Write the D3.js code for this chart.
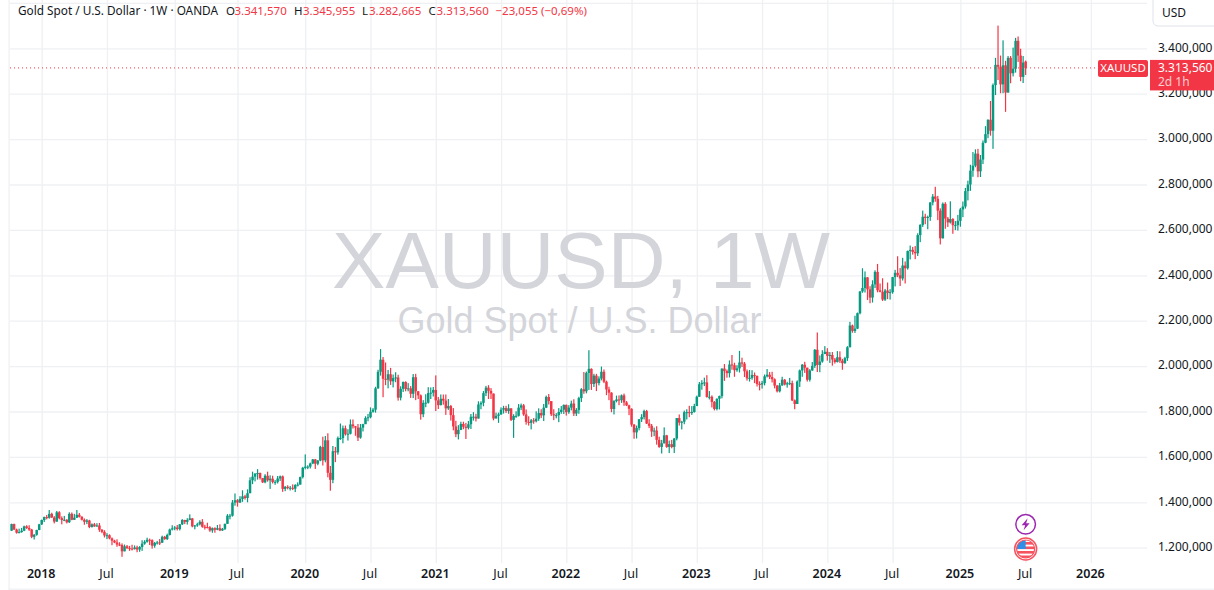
<!DOCTYPE html>
<html>
<head>
<meta charset="utf-8">
<script src="https://cdn.jsdelivr.net/npm/d3@7"></script>
<style>
  html, body { margin: 0; padding: 0; background: #fff; overflow: hidden; }
  svg { display: block; }
  text { font-family: "Noto Sans", sans-serif; }
</style>
</head>
<body>
<div id="container"></div>
<script>
// weekly bars from 9 Oct 2017 to 7 Jul 2025, one line per calendar year
const opens = [
  1275,1304,1280,1266,1269,1275,1294,1287,1280,1248,1257,1278,
  1303,1322,1335,1332,1349,1333,1315,1356,1330,1322,1323,1312,1349,1323,1332,1345,1336,1323,1314,1320,1291,1303,1294,1298,1279,1270,1254,1255,1241,1231,1223,1214,1212,1184,1206,1199,1196,1194,1201,1192,1203,1218,1226,1235,1233,1209,1221,1223,1222,1248,1238,1256,1280,
  1285,1289,1282,1303,1322,1314,1322,1329,1294,1298,1303,1314,1292,1291,1290,1276,1286,1279,1286,1276,1283,1305,1341,1341,1399,1409,1399,1415,1426,1419,1440,1497,1513,1527,1529,1507,1488,1517,1497,1504,1489,1490,1505,1514,1459,1468,1463,1464,1460,1476,1478,1511,
  1552,1557,1557,1571,1589,1570,1584,1644,1585,1673,1530,1499,1625,1620,1683,1683,1726,1700,1702,1743,1735,1729,1685,1729,1744,1771,1775,1799,1808,1902,1975,2028,1944,1940,1964,1933,1947,1950,1861,1900,1930,1899,1902,1878,1951,1889,1871,1788,1838,1839,1881,1883,
  1895,1849,1828,1856,1848,1814,1824,1784,1734,1700,1719,1745,1733,1728,1744,1777,1777,1769,1831,1838,1881,1905,1891,1879,1769,1781,1787,1808,1815,1802,1814,1763,1780,1781,1817,1827,1787,1754,1750,1761,1757,1768,1793,1783,1817,1864,1846,1788,1783,1784,1798,1808,
  1829,1797,1817,1835,1791,1807,1859,1898,1889,1970,1988,1921,1958,1925,1945,1975,1931,1897,1883,1811,1846,1853,1850,1871,1840,1827,1812,1742,1708,1727,1766,1775,1802,1747,1737,1712,1716,1675,1644,1660,1695,1644,1656,1644,1681,1771,1751,1755,1797,1797,1793,1798,
  1824,1865,1920,1926,1928,1864,1865,1842,1811,1856,1868,1989,1978,1969,2007,2004,1982,1990,2016,2011,1977,1946,1948,1961,1957,1921,1919,1925,1955,1962,1952,1942,1914,1889,1915,1940,1919,1924,1925,1849,1833,1932,1981,2006,1993,1940,1981,2001,2072,2005,2020,2053,
  2063,2045,2049,2029,2018,2039,2024,2013,2035,2083,2179,2155,2165,2233,2329,2344,2391,2338,2302,2360,2415,2334,2327,2293,2333,2322,2326,2392,2411,2400,2386,2443,2431,2507,2512,2503,2497,2577,2622,2658,2653,2657,2721,2747,2737,2685,2563,2715,2650,2633,2648,2621,2621,
  2640,2690,2703,2771,2800,2861,2883,2936,2858,2910,2984,3022,3085,3037,3238,3327,3319,3241,3325,3205,3358,3290,3310,3433,3368,3274,3341.57
];
const highs = [
  1306,1306,1284,1284,1287,1297,1299,1299,1283,1260,1279,1305,
  1324,1337,1344,1366,1354,1339,1362,1361,1338,1340,1326,1356,1355,1349,1366,1353,1339,1329,1326,1323,1307,1309,1308,1309,1282,1277,1264,1259,1245,1235,1237,1224,1219,1214,1212,1208,1213,1210,1209,1207,1233,1233,1244,1240,1237,1225,1230,1238,1253,1252,1262,1284,1299,
  1295,1300,1304,1326,1323,1330,1347,1331,1300,1310,1321,1326,1301,1310,1295,1289,1290,1300,1303,1287,1306,1348,1349,1410,1439,1414,1427,1453,1433,1457,1510,1535,1527,1546,1531,1507,1524,1535,1519,1517,1498,1516,1518,1518,1472,1475,1472,1479,1480,1488,1513,1556,
  1611,1563,1575,1591,1591,1586,1649,1689,1692,1704,1560,1648,1644,1690,1747,1738,1738,1722,1765,1765,1736,1745,1745,1746,1779,1789,1818,1815,1909,1984,2075,2040,2016,1983,1992,1963,1973,1962,1911,1932,1933,1925,1912,1965,1966,1890,1875,1850,1876,1907,1906,1908,
  1959,1864,1875,1875,1875,1855,1829,1815,1759,1740,1755,1755,1750,1758,1789,1797,1790,1845,1845,1890,1913,1916,1903,1879,1795,1795,1818,1825,1825,1832,1814,1788,1801,1833,1835,1833,1809,1779,1767,1771,1801,1814,1810,1833,1870,1877,1815,1810,1793,1815,1824,1831,
  1831,1828,1848,1854,1815,1865,1903,1974,1976,2070,1990,1966,1966,1955,1998,1985,1936,1909,1885,1850,1870,1871,1875,1879,1846,1830,1814,1745,1738,1767,1788,1808,1807,1766,1745,1729,1735,1689,1675,1730,1697,1672,1675,1683,1771,1787,1759,1804,1810,1825,1824,1834,
  1870,1930,1938,1949,1960,1890,1871,1846,1858,1870,1990,2009,1985,2025,2049,2015,2004,2067,2037,2018,1985,1983,1982,1972,1958,1933,1935,1963,1987,1974,1975,1946,1917,1926,1953,1943,1931,1948,1936,1853,1937,1985,2009,2019,1993,1987,2018,2075,2148,2047,2070,2088,
  2079,2062,2062,2036,2066,2065,2032,2041,2088,2195,2183,2222,2236,2330,2431,2417,2392,2352,2378,2422,2450,2364,2387,2340,2368,2339,2393,2424,2484,2432,2477,2461,2509,2531,2525,2529,2585,2625,2685,2671,2663,2722,2758,2790,2750,2695,2721,2722,2657,2726,2652,2639,2666,
  2697,2725,2785,2817,2887,2943,2955,2957,2930,2994,3057,3087,3168,3245,3358,3500,3368,3435,3345,3366,3366,3403,3446,3452,3398,3366,3345.955
];
const lows = [
  1274,1278,1262,1263,1266,1273,1283,1274,1242,1236,1253,1277,
  1300,1313,1325,1328,1331,1307,1314,1325,1303,1317,1307,1309,1321,1322,1331,1333,1320,1301,1304,1286,1289,1292,1292,1270,1264,1245,1238,1237,1211,1220,1204,1207,1160,1184,1194,1186,1188,1192,1180,1182,1186,1213,1222,1212,1196,1200,1214,1212,1221,1235,1234,1254,1276,
  1277,1276,1276,1300,1304,1302,1321,1290,1281,1292,1298,1288,1280,1285,1270,1266,1266,1277,1273,1274,1278,1305,1325,1337,1385,1381,1397,1402,1412,1400,1440,1480,1492,1500,1500,1485,1484,1491,1459,1483,1477,1483,1494,1446,1449,1457,1452,1454,1445,1470,1478,1505,
  1545,1546,1549,1568,1547,1563,1581,1562,1576,1510,1451,1484,1577,1610,1675,1660,1694,1672,1699,1725,1693,1670,1680,1712,1745,1757,1770,1795,1795,1900,1958,1863,1916,1902,1917,1906,1929,1848,1849,1886,1889,1889,1860,1859,1850,1855,1764,1775,1819,1835,1855,1866,
  1802,1811,1827,1830,1785,1807,1760,1717,1687,1677,1718,1722,1679,1721,1723,1760,1756,1769,1810,1823,1868,1855,1855,1761,1770,1750,1786,1791,1794,1790,1758,1684,1772,1778,1806,1781,1742,1738,1721,1746,1752,1759,1771,1758,1815,1831,1780,1762,1770,1753,1790,1789,
  1782,1790,1805,1780,1780,1790,1842,1878,1880,1895,1895,1908,1890,1915,1937,1925,1872,1850,1797,1787,1840,1828,1838,1825,1824,1784,1733,1680,1681,1717,1754,1765,1745,1727,1688,1691,1654,1640,1615,1659,1640,1617,1638,1617,1673,1738,1721,1744,1765,1775,1785,1795,
  1824,1865,1896,1912,1861,1853,1818,1805,1805,1809,1858,1935,1949,1950,1984,1953,1975,1972,1996,1952,1936,1932,1940,1925,1910,1893,1901,1915,1950,1943,1928,1902,1884,1884,1913,1915,1905,1916,1846,1810,1858,1908,1953,1970,1932,1932,1979,1992,1974,1973,2015,2053,
  2024,2014,2002,2011,2016,2014,1984,2010,2023,2083,2147,2146,2163,2228,2323,2324,2291,2277,2280,2344,2325,2325,2287,2287,2295,2293,2319,2351,2392,2353,2377,2364,2425,2470,2491,2471,2485,2546,2613,2625,2603,2640,2708,2724,2643,2536,2562,2605,2613,2628,2583,2599,2597,
  2614,2656,2694,2730,2772,2834,2876,2832,2833,2890,2982,3004,3015,2957,3194,3260,3202,3202,3120,3205,3246,3276,3293,3340,3255,3247,3282.665
];
const closes = [
  1304,1280,1266,1269,1275,1294,1287,1280,1248,1257,1278,1303,
  1322,1335,1332,1349,1333,1315,1356,1330,1322,1323,1312,1349,1323,1332,1345,1336,1323,1314,1320,1291,1303,1294,1298,1279,1270,1254,1255,1241,1231,1223,1214,1212,1184,1206,1199,1196,1194,1201,1192,1203,1218,1226,1235,1233,1209,1221,1223,1222,1248,1238,1256,1280,1285,
  1289,1282,1303,1322,1314,1322,1329,1294,1298,1303,1314,1292,1291,1290,1276,1286,1279,1286,1276,1283,1305,1341,1341,1399,1409,1399,1415,1426,1419,1440,1497,1513,1527,1529,1507,1488,1517,1497,1504,1489,1490,1505,1514,1459,1468,1463,1464,1460,1476,1478,1511,1552,
  1557,1557,1571,1589,1570,1584,1644,1585,1673,1530,1499,1625,1620,1683,1683,1726,1700,1702,1743,1735,1729,1685,1729,1744,1771,1775,1799,1808,1902,1975,2028,1944,1940,1964,1933,1947,1950,1861,1900,1930,1899,1902,1878,1951,1889,1871,1788,1838,1839,1881,1883,1895,
  1849,1828,1856,1848,1814,1824,1784,1734,1700,1719,1745,1733,1728,1744,1777,1777,1769,1831,1838,1881,1905,1891,1879,1769,1781,1787,1808,1815,1802,1814,1763,1780,1781,1817,1827,1787,1754,1750,1761,1757,1768,1793,1783,1817,1864,1846,1788,1783,1784,1798,1808,1829,
  1797,1817,1835,1791,1807,1859,1898,1889,1970,1988,1921,1958,1925,1945,1975,1931,1897,1883,1811,1846,1853,1850,1871,1840,1827,1812,1742,1708,1727,1766,1775,1802,1747,1737,1712,1716,1675,1644,1660,1695,1644,1656,1644,1681,1771,1751,1755,1797,1797,1793,1798,1824,
  1865,1920,1926,1928,1864,1865,1842,1811,1856,1868,1989,1978,1969,2007,2004,1982,1990,2016,2011,1977,1946,1948,1961,1957,1921,1919,1925,1955,1962,1952,1942,1914,1889,1915,1940,1919,1924,1925,1849,1833,1932,1981,2006,1993,1940,1981,2001,2072,2005,2020,2053,2063,
  2045,2049,2029,2018,2039,2024,2013,2035,2083,2179,2155,2165,2233,2329,2344,2391,2338,2302,2360,2415,2334,2327,2293,2333,2322,2326,2392,2411,2400,2386,2443,2431,2507,2512,2503,2497,2577,2622,2658,2653,2657,2721,2747,2737,2685,2563,2715,2650,2633,2648,2621,2621,2640,
  2690,2703,2771,2800,2861,2883,2936,2858,2910,2984,3022,3085,3037,3238,3327,3319,3241,3325,3205,3358,3290,3310,3433,3368,3274,3337,3313.56
];

// axis content
const priceTicks = [1200, 1400, 1600, 1800, 2000, 2200, 2400, 2600, 2800, 3000, 3200, 3400];
const priceGrid = [...priceTicks, 3600];
const timeTicks = ["2018-01-01", "2018-07-02", "2019-01-07", "2019-07-01", "2020-01-06", "2020-07-06", "2021-01-04", "2021-07-05", "2022-01-03", "2022-07-04", "2023-01-02", "2023-07-03", "2024-01-01", "2024-07-01", "2025-01-06", "2025-07-07", "2026-01-05"];
const timeLabels = ["2018", "Jul", "2019", "Jul", "2020", "Jul", "2021", "Jul", "2022", "Jul", "2023", "Jul", "2024", "Jul", "2025", "Jul", "2026"];

const width = 1214;
const height = 590;
const plotLeft = 10;
const plotRight = 1147;
const plotBottom = 563;
const green = "#089981";
const red = "#f23645";
const gridColor = "#eff0f3";
const textColor = "#131722";

const svg = d3
  .select("#container")
  .append("svg")
  .attr("width", width)
  .attr("height", height);

const parseDay = d3.utcParse("%Y-%m-%d");
const barDates = d3.utcMonday.range(parseDay("2017-10-09"), parseDay("2025-07-08"));

const xScale = d3
  .scaleUtc()
  .domain([parseDay("2018-01-01"), parseDay("2026-01-05")])
  .range([41.7, 1090.9]);

const yScale = d3.scaleLinear().domain([1200, 3400]).range([547.7, 48.3]);

// page frame
svg.append("rect").attr("x", 8.5).attr("y", 0).attr("width", 1.2).attr("height", height).attr("fill", gridColor);
svg.append("rect").attr("x", 8.5).attr("y", 588.6).attr("width", width).attr("height", 1.2).attr("fill", gridColor);

// grid
const xGrid = d3
  .axisBottom(xScale)
  .tickValues(timeTicks.map(parseDay))
  .tickSize(plotBottom)
  .tickFormat("");
svg.append("g").attr("class", "grid").call(xGrid);

const yGrid = d3
  .axisLeft(yScale)
  .tickValues(priceGrid)
  .tickSize(plotLeft - plotRight)
  .tickFormat("");
svg.append("g").attr("class", "grid").attr("transform", `translate(${plotLeft}, 0)`).call(yGrid);

svg.selectAll(".grid .domain").remove();
svg.selectAll(".grid line").attr("stroke", gridColor).attr("stroke-width", 1.3);

// watermark sits behind the candles
const watermark = svg.append("g").attr("text-anchor", "middle").attr("fill", "#d4d5da");
watermark
  .append("text")
  .attr("x", 581)
  .attr("y", 288)
  .style("font-family", '"Liberation Sans", sans-serif')
  .style("font-size", "80px")
  .text("XAUUSD, 1W");
watermark
  .append("text")
  .attr("x", 579.5)
  .attr("y", 333)
  .style("font-family", '"Liberation Sans", sans-serif')
  .style("font-size", "36px")
  .text("Gold Spot / U.S. Dollar");

// candles
svg.append("clipPath").attr("id", "plot").append("rect")
  .attr("x", plotLeft).attr("y", 0).attr("width", plotRight - plotLeft).attr("height", plotBottom);

const bars = barDates.map((date, i) => ({
  date,
  open: opens[i],
  high: highs[i],
  low: lows[i],
  close: closes[i]
}));

const candles = svg
  .append("g")
  .attr("clip-path", "url(#plot)")
  .selectAll(".candle")
  .data(bars)
  .enter()
  .append("g")
  .attr("class", "candle")
  .attr("fill", (d) => (d.close >= d.open ? green : red));

candles
  .append("rect")
  .attr("x", (d) => xScale(d.date) - 0.6)
  .attr("width", 1.2)
  .attr("y", (d) => yScale(d.high))
  .attr("height", (d) => yScale(d.low) - yScale(d.high));

candles
  .append("rect")
  .attr("x", (d) => xScale(d.date) - 1.25)
  .attr("width", 2.5)
  .attr("y", (d) => yScale(Math.max(d.open, d.close)))
  .attr("height", (d) => Math.max(1, Math.abs(yScale(d.open) - yScale(d.close))));

// price axis
const priceLocale = d3.formatLocale({ decimal: ",", thousands: ".", grouping: [3], currency: ["", ""] });
const priceFormat = priceLocale.format(",.3f");

const yAxis = d3
  .axisRight(yScale)
  .tickValues(priceTicks)
  .tickSize(0)
  .tickPadding(0)
  .tickFormat(priceFormat);
const yAxisGroup = svg.append("g").attr("transform", "translate(1158, -1)").call(yAxis);
yAxisGroup.select(".domain").remove();
yAxisGroup.selectAll("text").style("font-size", "12px").attr("fill", textColor);

// time axis
const xAxis = d3
  .axisBottom(xScale)
  .tickValues(timeTicks.map(parseDay))
  .tickSize(0)
  .tickPadding(0)
  .tickFormat((d, i) => timeLabels[i]);
const xAxisGroup = svg.append("g").attr("transform", "translate(-1, 569.5)").call(xAxis);
xAxisGroup.select(".domain").remove();
xAxisGroup
  .selectAll("text")
  .style("font-size", "12.5px")
  .style("font-weight", (d, i) => (timeLabels[i] === "Jul" ? 400 : 600))
  .attr("fill", textColor);

// last price line and labels
const lastClose = closes[closes.length - 1];
const lastY = yScale(lastClose);

svg
  .append("line")
  .attr("x1", plotLeft)
  .attr("x2", 1098)
  .attr("y1", lastY)
  .attr("y2", lastY)
  .attr("stroke", red)
  .attr("stroke-dasharray", "1,3");

svg.append("rect").attr("x", 1098).attr("y", lastY - 8).attr("width", 50).attr("height", 17).attr("rx", 2).attr("fill", red);
svg.append("text").attr("x", 1123).attr("y", lastY + 4.5).attr("text-anchor", "middle").attr("fill", "#fff").style("font-size", "11.5px").text("XAUUSD");

svg.append("rect").attr("x", 1150).attr("y", lastY - 8).attr("width", 64).attr("height", 30.5).attr("fill", red);
svg.append("text").attr("x", 1158).attr("y", lastY + 4).attr("fill", "#fff").style("font-size", "12px").text(priceFormat(lastClose));
svg.append("text").attr("x", 1158).attr("y", lastY + 18).attr("fill", "#fff").attr("fill-opacity", 0.75).style("font-size", "12px").text("2d 1h");

// currency button
svg.append("rect").attr("x", 1153).attr("y", -6).attr("width", 70).attr("height", 32).attr("rx", 5).attr("fill", "#fff").attr("stroke", "#e0e3eb");
svg.append("text").attr("x", 1162).attr("y", 17).attr("fill", textColor).style("font-size", "12px").text("USD");

// legend line
const legendItems = [
  { x: 18, text: "Gold Spot / U.S. Dollar · 1W · OANDA", color: textColor },
  { x: 226, text: "O", color: textColor },
  { x: 234.5, text: "3.341,570", color: red },
  { x: 294, text: "H", color: textColor },
  { x: 303, text: "3.345,955", color: red },
  { x: 362, text: "L", color: textColor },
  { x: 369, text: "3.282,665", color: red },
  { x: 428.5, text: "C", color: textColor },
  { x: 436.5, text: "3.313,560", color: red },
  { x: 495.5, text: "−23,055 (−0,69%)", color: red }
];
svg
  .append("g")
  .selectAll("text")
  .data(legendItems)
  .enter()
  .append("text")
  .attr("x", (d) => d.x)
  .attr("y", 15)
  .attr("fill", (d) => d.color)
  .style("font-size", (d, i) => (i === 0 ? "11.8px" : "11.5px"))
  .text((d) => d.text);

// event markers on the last bar
const eventX = xScale(parseDay("2025-07-07"));
const bolt = svg.append("g").attr("transform", `translate(${eventX}, 524.3)`);
bolt.append("circle").attr("r", 9.8).attr("fill", "#fff").attr("stroke", "#9c27b0").attr("stroke-width", 1.5);
bolt.append("path").attr("d", "M2,-6 L-4,1 L-0.5,1 L-2,6 L4,-1 L0.5,-1 Z").attr("fill", "#9c27b0");

const flag = svg.append("g").attr("transform", `translate(${eventX}, 549)`);
flag.append("circle").attr("r", 11).attr("fill", "#fff").attr("stroke", "#f7525f").attr("stroke-width", 1.5);
flag.append("clipPath").attr("id", "flagClip").append("circle").attr("r", 9);
const flagInner = flag.append("g").attr("clip-path", "url(#flagClip)");
flagInner.append("rect").attr("x", -10).attr("y", -10).attr("width", 20).attr("height", 20).attr("fill", "#fff");
[-7, -2.5, 2, 6.5].forEach((stripeY) => {
  flagInner.append("rect").attr("x", -10).attr("y", stripeY).attr("width", 20).attr("height", 2.6).attr("fill", "#f7525f");
});
flagInner.append("rect").attr("x", -10).attr("y", -10).attr("width", 10).attr("height", 10).attr("fill", "#2f8fe8");
flag.append("circle").attr("r", 9).attr("fill", "none").attr("stroke", "#f7525f").attr("stroke-width", 1.2);
</script>
</body>
</html>
